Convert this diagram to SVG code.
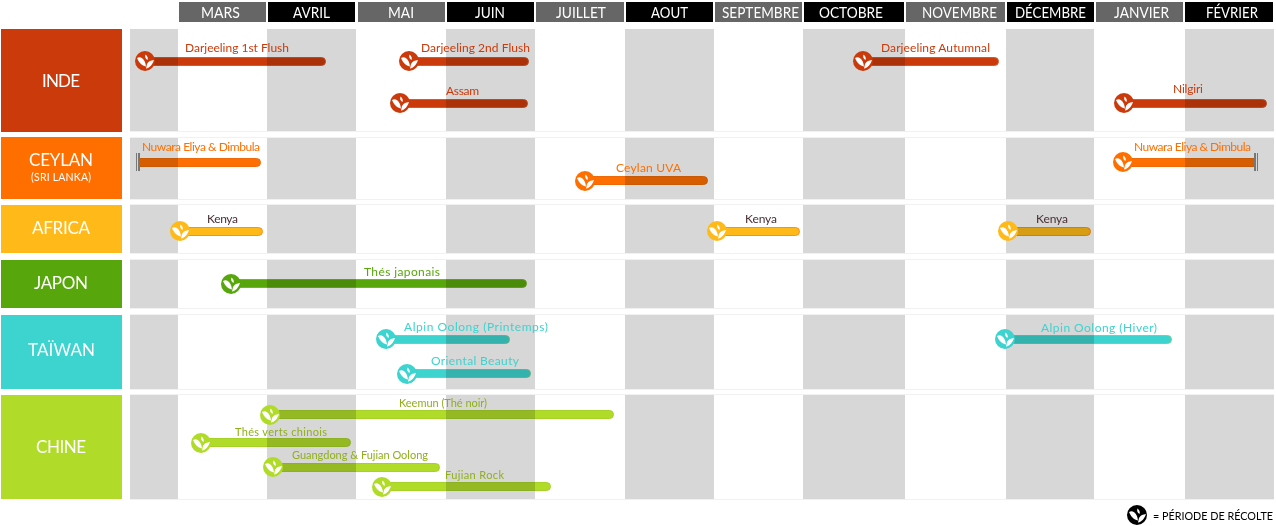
<svg xmlns="http://www.w3.org/2000/svg" width="1276" height="526" viewBox="0 0 1276 526">
<style>
text{font-family:Lato,"Open Sans","Liberation Sans",sans-serif}
.m{fill:#fff;font-size:15.500px}
.g{fill:#d7d7d7}
.rl{fill:#fff;font-size:17px}
.l{font-size:12px}
.s{font-size:11px}
.b{mix-blend-mode:multiply;stroke-width:1}
.red{fill:#cb3a0a}.org{fill:#ff6f00}.yel{fill:#ffba19}.grn{fill:#57a60b}.tea{fill:#3dd3cf}.lim{fill:#b0dc29}
.bred{stroke:#d65a30}.borg{stroke:#ee6a08}.byel{stroke:#ff8f1c}.bgrn{stroke:#74b52c}.btea{stroke:#76d29a}.blim{stroke:#a6d228}
.tl{fill:#8fb01a}.tk{fill:#4a2f35}
</style>
<defs>
<g id="leaf">
<path fill="#fff" d="M-8-3C-4-5.500 0-2 1 5.500-4 5-7-.5-8-3Z"/>
<path fill="#fff" d="M.5-6.500C2.500-5 3.200-3 2.500-1 .5-2-.5-4.500 .5-6.500Z"/>
<path fill="#fff" d="M9-1C6-.5 3.500 0 2 3 1.500 4.500 1.500 6 1 7.500 5 7 8 2.500 9-1Z"/>
</g>
</defs>
<rect width="1276" height="526" fill="#fff"/>
<g id="grid">
<rect class="g" x="130" y="29" width="48" height="470"/>
<rect class="g" x="267" y="29" width="89" height="470"/>
<rect class="g" x="446" y="29" width="89" height="470"/>
<rect class="g" x="625" y="29" width="89" height="470"/>
<rect class="g" x="803" y="29" width="102" height="470"/>
<rect class="g" x="1006" y="29" width="88" height="470"/>
<rect class="g" x="1185" y="29" width="89" height="470"/>
<g fill="#fff">
<rect x="130" y="132" width="1146" height="5"/><rect x="130" y="199" width="1146" height="6"/><rect x="130" y="253" width="1146" height="7"/><rect x="130" y="308" width="1146" height="7"/><rect x="130" y="389" width="1146" height="6"/>
</g>
<g fill="#f1f1f1">
<rect x="130" y="131" width="1144" height="1"/><rect x="130" y="137" width="1144" height="1"/><rect x="130" y="199" width="1144" height="1"/><rect x="130" y="204" width="1144" height="1"/><rect x="130" y="253" width="1144" height="1"/><rect x="130" y="259" width="1144" height="1"/><rect x="130" y="308" width="1144" height="1"/><rect x="130" y="314" width="1144" height="1"/><rect x="130" y="389" width="1144" height="1"/><rect x="130" y="394" width="1144" height="1"/><rect x="130" y="499" width="1144" height="1"/>
</g>
</g>
<g id="months">
<rect x="179" y="2" width="87" height="20" fill="#666"/><text class="m" x="201" y="18" textLength="39" lengthAdjust="spacingAndGlyphs">MARS</text>
<rect x="268" y="2" width="87" height="20" fill="#000"/><text class="m" x="293" y="18" textLength="37" lengthAdjust="spacingAndGlyphs">AVRIL</text>
<rect x="358" y="2" width="87" height="20" fill="#666"/><text class="m" x="388" y="18" textLength="26" lengthAdjust="spacingAndGlyphs">MAI</text>
<rect x="447" y="2" width="87" height="20" fill="#000"/><text class="m" x="475" y="18" textLength="30" lengthAdjust="spacingAndGlyphs">JUIN</text>
<rect x="536" y="2" width="88" height="20" fill="#666"/><text class="m" x="556" y="18" textLength="50" lengthAdjust="spacingAndGlyphs">JUILLET</text>
<rect x="626" y="2" width="87" height="20" fill="#000"/><text class="m" x="651" y="18" textLength="37" lengthAdjust="spacingAndGlyphs">AOUT</text>
<rect x="715" y="2" width="87" height="20" fill="#666"/><text class="m" x="722" y="18" textLength="77" lengthAdjust="spacingAndGlyphs">SEPTEMBRE</text>
<rect x="804" y="2" width="100" height="20" fill="#000"/><text class="m" x="819" y="18" textLength="64" lengthAdjust="spacingAndGlyphs">OCTOBRE</text>
<rect x="906" y="2" width="99" height="20" fill="#666"/><text class="m" x="922" y="18" textLength="75" lengthAdjust="spacingAndGlyphs">NOVEMBRE</text>
<rect x="1007" y="2" width="87" height="20" fill="#000"/><text class="m" x="1015" y="18" textLength="71" lengthAdjust="spacingAndGlyphs">DÉCEMBRE</text>
<rect x="1096" y="2" width="87" height="20" fill="#666"/><text class="m" x="1114" y="18" textLength="55" lengthAdjust="spacingAndGlyphs">JANVIER</text>
<rect x="1185" y="2" width="88" height="20" fill="#000"/><text class="m" x="1206" y="18" textLength="52" lengthAdjust="spacingAndGlyphs">FÉVRIER</text>
</g>
<g id="row-inde"><rect x="1" y="29" width="121" height="103" fill="#cb3a0a"/><text class="rl" x="42" y="87" textLength="38">INDE</text></g>
<g id="row-ceylan"><rect x="1" y="137" width="121" height="62" fill="#ff6f00"/><text class="rl" x="29" y="166" textLength="64">CEYLAN</text><text x="31" y="181" fill="#fff" font-size="10.500" textLength="60">(SRI LANKA)</text></g>
<g id="row-africa"><rect x="1" y="205" width="121" height="48" fill="#ffba19"/><text class="rl" x="32" y="234" textLength="58">AFRICA</text></g>
<g id="row-japon"><rect x="1" y="260" width="121" height="48" fill="#57a60b"/><text class="rl" x="34" y="289" textLength="54">JAPON</text></g>
<g id="row-taiwan"><rect x="1" y="315" width="121" height="74" fill="#3dd3cf"/><text class="rl" x="28" y="356" textLength="67">TAÏWAN</text></g>
<g id="row-chine"><rect x="1" y="395" width="121" height="104" fill="#b0dc29"/><text class="rl" x="36" y="453" textLength="50">CHINE</text></g>
<g id="connectors">
<rect class="b red bred" x="145.500" y="57.500" width="180" height="8" rx="4"/>
<rect class="b red bred" x="409.500" y="57.500" width="119" height="8" rx="4"/>
<rect class="b red bred" x="400.500" y="99.500" width="127" height="8" rx="4"/>
<rect class="b red bred" x="863.500" y="57.500" width="135" height="8" rx="4"/>
<rect class="b red bred" x="1124.500" y="99.500" width="142" height="8" rx="4"/>
<path class="b org borg" d="M139.500 158.500H256.500a4 4 0 0 1 0 8H139.500Z"/>
<rect class="b org borg" x="585.500" y="176.500" width="122" height="8" rx="4"/>
<rect class="b org borg" x="1123.500" y="158.500" width="131" height="8"/>
<rect class="b yel byel" x="180.500" y="227.500" width="82" height="8" rx="4"/>
<rect class="b yel byel" x="717.500" y="227.500" width="82" height="8" rx="4"/>
<rect class="b yel byel" x="1008.500" y="227.500" width="82" height="8" rx="4"/>
<rect class="b grn bgrn" x="231.500" y="279.500" width="295" height="8" rx="4"/>
<rect class="b tea btea" x="386.500" y="335.500" width="123" height="8" rx="4"/>
<rect class="b tea btea" x="407.500" y="369.500" width="123" height="8" rx="4"/>
<rect class="b tea btea" x="1005.500" y="335.500" width="166" height="8" rx="4"/>
<rect class="b lim blim" x="270.500" y="410.500" width="343" height="8" rx="4"/>
<rect class="b lim blim" x="201.500" y="438.500" width="149" height="8" rx="4"/>
<rect class="b lim blim" x="273.500" y="463.500" width="166" height="8" rx="4"/>
<rect class="b lim blim" x="382.500" y="482.500" width="168" height="8" rx="4"/>
<g fill="#777"><rect x="136" y="153" width="1" height="18"/><rect x="138" y="153" width="2" height="18"/><rect x="1254" y="153" width="2" height="18"/><rect x="1257" y="153" width="1" height="18"/></g>
</g>
<g id="inde-1"><circle class="red" cx="145" cy="61" r="10"/><use href="#leaf" x="145" y="61"/><text class="l red" x="185" y="52" textLength="104">Darjeeling 1st Flush</text></g>
<g id="inde-2"><circle class="red" cx="409" cy="61" r="10"/><use href="#leaf" x="409" y="61"/><text class="l red" x="421" y="52" textLength="109">Darjeeling 2nd Flush</text></g>
<g id="inde-3"><circle class="red" cx="400" cy="103" r="10"/><use href="#leaf" x="400" y="103"/><text class="l red" x="446" y="95" textLength="33">Assam</text></g>
<g id="inde-4"><circle class="red" cx="863" cy="61" r="10"/><use href="#leaf" x="863" y="61"/><text class="l red" x="881" y="52" textLength="109">Darjeeling Autumnal</text></g>
<g id="inde-5"><circle class="red" cx="1124" cy="103" r="10"/><use href="#leaf" x="1124" y="103"/><text class="l red" x="1173" y="93" textLength="30">Nilgiri</text></g>
<g id="ceylan-1"><text class="l org" x="142" y="151" textLength="118">Nuwara Eliya &amp; Dimbula</text></g>
<g id="ceylan-2"><circle class="org" cx="585" cy="181" r="10"/><use href="#leaf" x="585" y="181"/><text class="l org" x="616" y="172" textLength="65">Ceylan UVA</text></g>
<g id="ceylan-3"><circle class="org" cx="1123" cy="162" r="10"/><use href="#leaf" x="1123" y="162"/><text class="l org" x="1134" y="151" textLength="117">Nuwara Eliya &amp; Dimbula</text></g>
<g id="africa-1"><circle class="yel" cx="180" cy="231" r="10"/><use href="#leaf" x="180" y="231"/><text class="l tk" x="207" y="223" textLength="31">Kenya</text></g>
<g id="africa-2"><circle class="yel" cx="717" cy="231" r="10"/><use href="#leaf" x="717" y="231"/><text class="l tk" x="745" y="223" textLength="32">Kenya</text></g>
<g id="africa-3"><circle class="yel" cx="1008" cy="231" r="10"/><use href="#leaf" x="1008" y="231"/><text class="l tk" x="1036" y="223" textLength="32">Kenya</text></g>
<g id="japon-1"><circle class="grn" cx="231" cy="284" r="10"/><use href="#leaf" x="231" y="284"/><text class="l grn" x="364" y="276" textLength="76">Thés japonais</text></g>
<g id="taiwan-1"><circle class="tea" cx="386" cy="339" r="10"/><use href="#leaf" x="386" y="339"/><text class="l tea" x="404" y="331" textLength="144">Alpin Oolong (Printemps)</text></g>
<g id="taiwan-2"><circle class="tea" cx="407" cy="374" r="10"/><use href="#leaf" x="407" y="374"/><text class="l tea" x="431" y="365" textLength="88">Oriental Beauty</text></g>
<g id="taiwan-3"><circle class="tea" cx="1005" cy="339" r="10"/><use href="#leaf" x="1005" y="339"/><text class="l tea" x="1041" y="332" textLength="116">Alpin Oolong (Hiver)</text></g>
<g id="chine-1"><circle class="lim" cx="270" cy="415" r="10"/><use href="#leaf" x="270" y="415"/><text class="s tl" x="399" y="407" textLength="88">Keemun (Thé noir)</text></g>
<g id="chine-2"><circle class="lim" cx="201" cy="443" r="10"/><use href="#leaf" x="201" y="443"/><text class="s tl" x="235" y="436" textLength="92">Thés verts chinois</text></g>
<g id="chine-3"><circle class="lim" cx="273" cy="467" r="10"/><use href="#leaf" x="273" y="467"/><text class="s tl" x="292" y="459" textLength="136">Guangdong &amp; Fujian Oolong</text></g>
<g id="chine-4"><circle class="lim" cx="382" cy="487" r="10"/><use href="#leaf" x="382" y="487"/><text class="s tl" x="445" y="479" textLength="59">Fujian Rock</text></g>
<g id="legend"><circle cx="1137" cy="515" r="10" fill="#000"/><use href="#leaf" x="1137" y="515"/><text x="1153" y="519.500" font-size="11" fill="#000" textLength="120" lengthAdjust="spacingAndGlyphs">= PÉRIODE DE RÉCOLTE</text></g>
</svg>
